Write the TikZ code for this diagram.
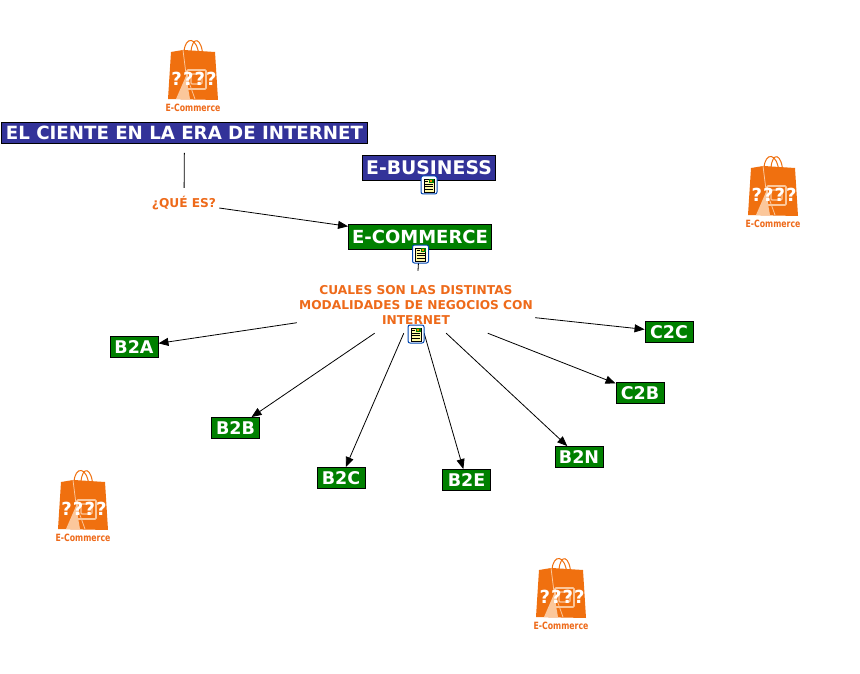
\documentclass[tikz,border=0pt]{standalone}
\usepackage{fontspec}
\setmainfont{DejaVu Sans}
\usetikzlibrary{arrows.meta}
\definecolor{navy}{HTML}{333399}
\definecolor{leaf}{HTML}{008000}
\definecolor{orng}{HTML}{EE6A1A}
\definecolor{bago}{HTML}{F0700F}
\definecolor{bagl}{HTML}{FBC79B}
\tikzset{
  box/.style={draw=black,line width=0.9pt,text=white,font=\bfseries\fontsize{#1}{#1}\selectfont,inner sep=0pt,anchor=center},
  navybox/.style={box=#1,fill=navy},
  greenbox/.style={box=#1,fill=leaf},
  small/.style={greenbox=17.5,minimum width=48pt,minimum height=21pt},
  lab/.style={text=orng,font=\bfseries\fontsize{12.2}{15}\selectfont,align=center,inner sep=0pt},
  conn/.style={draw=black,line width=0.8pt},
  arr/.style={conn,-{Triangle[length=10pt,width=8pt]}},
  icon/.pic={
    \fill[white,draw=blue!60!cyan!70!black,line width=1pt,rounded corners=2pt] (-8,-9) rectangle (8,9);
    \fill[yellow!35] (-5,-6) rectangle (5,7);
    \draw[black,line width=0.8pt] (-5,-6) rectangle (5,7);
    \foreach \yy in {-1,1.5,4}{\draw[black,line width=0.7pt] (-4,\yy) -- (4,\yy);}
    \draw[black,line width=0.7pt] (-4,-4) -- (-1,-4);
    \fill[green!50!black] (0,-6) rectangle (5,-1.8);
    \fill[orange] (1,-5) rectangle (3,-3);
  },
  bag/.pic={
    \draw[bago,line width=1pt] (-2,-56) .. controls (-1,-72) and (9,-72) .. (10,-50);
    \draw[bago,line width=1pt] (-9,-56) .. controls (-8,-72) and (4,-72) .. (6,-52);
    \fill[bago] (-22,-56) -- (-10,-58) -- (-9,-58) -- (22,-56) -- (25,-8) -- (-25,-9) -- cycle;
    \draw[bagl,line width=0.8pt] (-10,-58) -- (-7,-34) -- (2,-9);
    \fill[bagl] (-17,-9) -- (-7,-32) -- (-3,-9) -- cycle;
    \draw[bagl,line width=1.6pt,rounded corners=1pt] (-6,-38) rectangle (13,-19);
    \draw[bagl,line width=1.4pt,rounded corners=1pt] (-2,-34) rectangle (9,-24);
    \node[text=white,font=\bfseries\fontsize{18}{18}\selectfont\addfontfeature{LetterSpace=6},inner sep=0pt] at (1,-29) {????};
    \node[text=orng,draw=none,font=\bfseries\fontsize{10}{10}\selectfont,inner sep=0pt,xscale=0.78] at (0,0) {E-Commerce};
  }
}
\begin{document}
\begin{tikzpicture}[x=1pt,y=-1pt]
\useasboundingbox (0,0) rectangle (860,674);
\fill[white] (0,0) rectangle (860,674);

\node[navybox=18.2,minimum width=366pt,minimum height=21pt] (title) at (184.5,133) {EL CIENTE EN LA ERA DE INTERNET};
\node[navybox=18.8,minimum width=133pt,minimum height=25pt] (ebus) at (429,168) {E-BUSINESS};
\node[greenbox=18,minimum width=143pt,minimum height=25pt] (ecom) at (420,236.5) {E-COMMERCE};
\node[lab,fill=white,inner xsep=3pt,inner ysep=5pt] (que) at (184,203) {¿QUÉ ES?};
\node[lab,minimum width=238pt,minimum height=56pt] (cual) at (416,305) {CUALES SON LAS DISTINTAS\\MODALIDADES DE NEGOCIOS CON\\INTERNET};

\node[small] (b2a) at (134,347) {B2A};
\node[small] (b2b) at (235.5,428) {B2B};
\node[small] (b2c) at (341,478) {B2C};
\node[small] (b2e) at (466.5,480) {B2E};
\node[small] (b2n) at (579,457) {B2N};
\node[small] (c2b) at (640,393) {C2B};
\node[small] (c2c) at (669,332) {C2C};

\draw[conn,shorten <=9pt,shorten >=3pt] (title) -- (que);
\draw[arr] (que) -- (ecom);
\draw[conn,shorten >=6pt] (ecom) -- (cual);
\foreach \t in {b2a,b2b,b2c,b2e,b2n,c2b,c2c}{\draw[arr] (cual) -- (\t);}

\pic at (429,185) {icon};
\pic at (420.5,254) {icon};
\pic at (416,334) {icon};

\pic at (193,108) {bag};
\pic at (773,224) {bag};
\pic at (83,538) {bag};
\pic at (561,626) {bag};
\end{tikzpicture}
\end{document}
